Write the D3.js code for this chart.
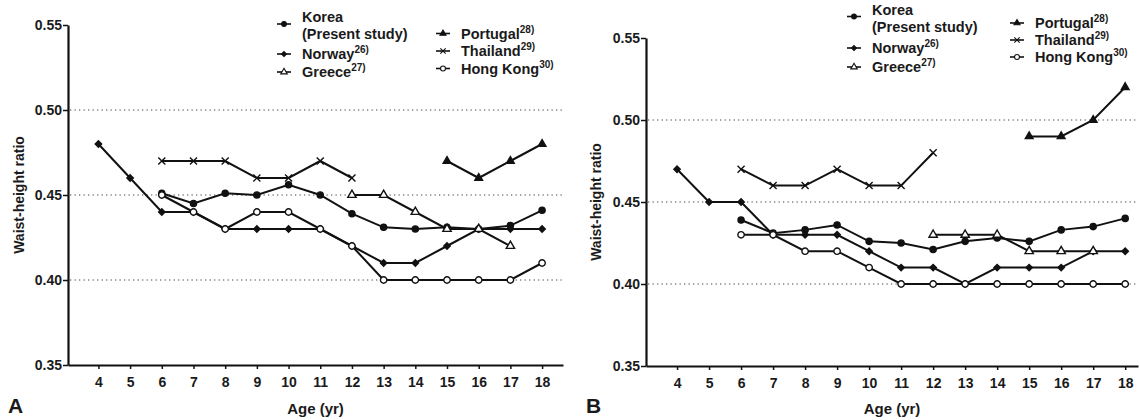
<!DOCTYPE html>
<html>
<head>
<meta charset="utf-8">
<script src="https://cdn.jsdelivr.net/npm/d3@7"></script>
<style>
body { margin: 0; background: #fff; }
svg text { font-family: "Liberation Sans", Arial, sans-serif; font-weight: bold; fill: #1a1a1a; }
</style>
</head>
<body>
<script>
// x categories and y ticks
var ages = [4, 5, 6, 7, 8, 9, 10, 11, 12, 13, 14, 15, 16, 17, 18];
var yTicks = [0.35, 0.40, 0.45, 0.50, 0.55];
var gridTicks = [0.40, 0.45, 0.50];

var seriesNames = ["Korea", "Norway", "Greece", "Portugal", "Thailand", "Hong Kong"];
var seriesRefs = ["", "26)", "27)", "28)", "29)", "30)"];

// panel A (values per age 4..18, null = no data)
var koreaA    = [null, null, 0.451, 0.445, 0.451, 0.450, 0.456, 0.450, 0.439, 0.431, 0.430, 0.431, 0.430, 0.432, 0.441];
var norwayA   = [0.48, 0.46, 0.44, 0.44, 0.43, 0.43, 0.43, 0.43, 0.42, 0.41, 0.41, 0.42, 0.43, 0.43, 0.43];
var greeceA   = [null, null, null, null, null, null, null, null, 0.45, 0.45, 0.44, 0.43, 0.43, 0.42, null];
var portugalA = [null, null, null, null, null, null, null, null, null, null, null, 0.47, 0.46, 0.47, 0.48];
var thailandA = [null, null, 0.47, 0.47, 0.47, 0.46, 0.46, 0.47, 0.46, null, null, null, null, null, null];
var hongkongA = [null, null, 0.45, 0.44, 0.43, 0.44, 0.44, 0.43, 0.42, 0.40, 0.40, 0.40, 0.40, 0.40, 0.41];

// panel B
var koreaB    = [null, null, 0.439, 0.431, 0.433, 0.436, 0.426, 0.425, 0.421, 0.426, 0.428, 0.426, 0.433, 0.435, 0.440];
var norwayB   = [0.47, 0.45, 0.45, 0.43, 0.43, 0.43, 0.42, 0.41, 0.41, 0.40, 0.41, 0.41, 0.41, 0.42, 0.42];
var greeceB   = [null, null, null, null, null, null, null, null, 0.43, 0.43, 0.43, 0.42, 0.42, 0.42, null];
var portugalB = [null, null, null, null, null, null, null, null, null, null, null, 0.49, 0.49, 0.50, 0.52];
var thailandB = [null, null, 0.47, 0.46, 0.46, 0.47, 0.46, 0.46, 0.48, null, null, null, null, null, null];
var hongkongB = [null, null, 0.43, 0.43, 0.42, 0.42, 0.41, 0.40, 0.40, 0.40, 0.40, 0.40, 0.40, 0.40, 0.40];

// marker style per series
var markers = [
    {type: d3.symbolCircle,   size: 30, fill: "#111"},
    {type: d3.symbolDiamond2, size: 26, fill: "#111"},
    {type: d3.symbolTriangle, size: 30, fill: "#fff"},
    {type: d3.symbolTriangle, size: 26, fill: "#111"},
    {type: d3.symbolTimes,    size: 34, fill: "none"},
    {type: d3.symbolCircle,   size: 32, fill: "#fff"}
];

var svg = d3.select("body").append("svg")
    .attr("width", 1140)
    .attr("height", 420);

function drawPanel(p) {
    var x = d3.scaleLinear().domain(p.xDomain).range([p.left, p.right]);
    var y = d3.scaleLinear().domain([0.35, 0.55]).range([p.bottom, p.top]);
    var g = svg.append("g");

    // dotted grid
    g.selectAll(".grid").data(gridTicks).enter().append("line")
        .attr("x1", p.left + 2).attr("x2", p.right)
        .attr("y1", function(d) { return y(d); })
        .attr("y2", function(d) { return y(d); })
        .attr("stroke", "#444").attr("stroke-width", 1)
        .attr("stroke-dasharray", "1.3,3.2");

    var xAxis = d3.axisBottom(x).tickValues(ages).tickSize(4).tickSizeOuter(0).tickPadding(8);
    var yAxis = d3.axisLeft(y).tickValues(yTicks).tickSize(5).tickSizeOuter(0).tickPadding(1)
        .tickFormat(d3.format(".2f"));

    var gx = g.append("g")
        .attr("transform", "translate(0," + p.bottom + ")")
        .call(xAxis);
    var gy = g.append("g")
        .attr("transform", "translate(" + p.left + ",0)")
        .call(yAxis);
    [gx, gy].forEach(function(a) {
        a.attr("font-family", null).attr("font-size", 14);
        a.select(".domain").attr("stroke", "#111").attr("stroke-width", 2.2);
        a.selectAll(".tick line").attr("stroke", "#111").attr("stroke-width", 1.5);
        a.selectAll(".tick text").attr("fill", "#1a1a1a");
    });

    // lines
    var line = d3.line()
        .defined(function(d) { return d != null; })
        .x(function(d, i) { return x(ages[i]); })
        .y(function(d) { return y(d); });

    p.data.forEach(function(vals, s) {
        g.append("path")
            .attr("d", line(vals))
            .attr("fill", "none")
            .attr("stroke", "#111")
            .attr("stroke-width", 2);
    });

    // markers
    p.data.forEach(function(vals, s) {
        var m = markers[s];
        var pts = vals.map(function(v, i) { return [ages[i], v]; })
            .filter(function(d) { return d[1] != null; });
        g.selectAll(".m" + s).data(pts).enter().append("path")
            .attr("class", "m" + s)
            .attr("transform", function(d) { return "translate(" + x(d[0]) + "," + y(d[1]) + ")"; })
            .attr("d", d3.symbol().type(m.type).size(m.size))
            .attr("fill", m.fill)
            .attr("stroke", "#111")
            .attr("stroke-width", 1.4);
    });

    // axis titles
    g.append("text")
        .attr("x", (p.left + p.right) / 2)
        .attr("y", 414)
        .attr("text-anchor", "middle")
        .attr("font-size", 15)
        .text("Age (yr)");
    g.append("text")
        .attr("transform", "translate(" + p.yTitleX + "," + ((p.top + p.bottom) / 2) + ") rotate(-90)")
        .attr("text-anchor", "middle")
        .attr("font-size", 14)
        .text("Waist-height ratio");
    g.append("text")
        .attr("x", p.letterX)
        .attr("y", 413)
        .attr("font-size", 21)
        .text(p.letter);

    // legend
    p.legend.forEach(function(pos, s) {
        var lg = g.append("g").attr("transform", "translate(" + pos[0] + "," + pos[1] + ")");
        var m = markers[s];
        lg.append("line")
            .attr("x1", -7).attr("x2", 7)
            .attr("y1", s == 0 ? 7 : 0).attr("y2", s == 0 ? 7 : 0)
            .attr("stroke", "#111").attr("stroke-width", 1.6);
        lg.append("path")
            .attr("transform", "translate(0," + (s == 0 ? 7 : 0) + ")")
            .attr("d", d3.symbol().type(m.type).size(m.size * 0.6))
            .attr("fill", m.fill)
            .attr("stroke", "#111")
            .attr("stroke-width", 1.1);
        var t = lg.append("text")
            .attr("x", 18)
            .attr("y", 5)
            .attr("font-size", 14.5);
        t.append("tspan").text(seriesNames[s]);
        if (seriesRefs[s]) {
            t.append("tspan").attr("font-size", 10).attr("dy", -6).text(seriesRefs[s]);
        }
        if (s == 0) {
            lg.append("text").attr("x", 18).attr("y", 22).attr("font-size", 14.5).text("(Present study)");
        }
    });
}

drawPanel({
    data: [koreaA, norwayA, greeceA, portugalA, thailandA, hongkongA],
    left: 68, right: 563, top: 25, bottom: 365,
    xDomain: [3.04, 18.66],
    yTitleX: 24, letter: "A", letterX: 8,
    legend: [[284, 17], [284, 54], [284, 72], [443, 33.5], [443, 51], [443, 68.5]]
});

drawPanel({
    data: [koreaB, norwayB, greeceB, portugalB, thailandB, hongkongB],
    left: 646, right: 1138, top: 38, bottom: 366,
    xDomain: [3.03, 18.4],
    yTitleX: 601, letter: "B", letterX: 586,
    legend: [[854, 9.5], [854, 48], [854, 67], [1017, 23], [1017, 40], [1017, 57]]
});
</script>
</body>
</html>
